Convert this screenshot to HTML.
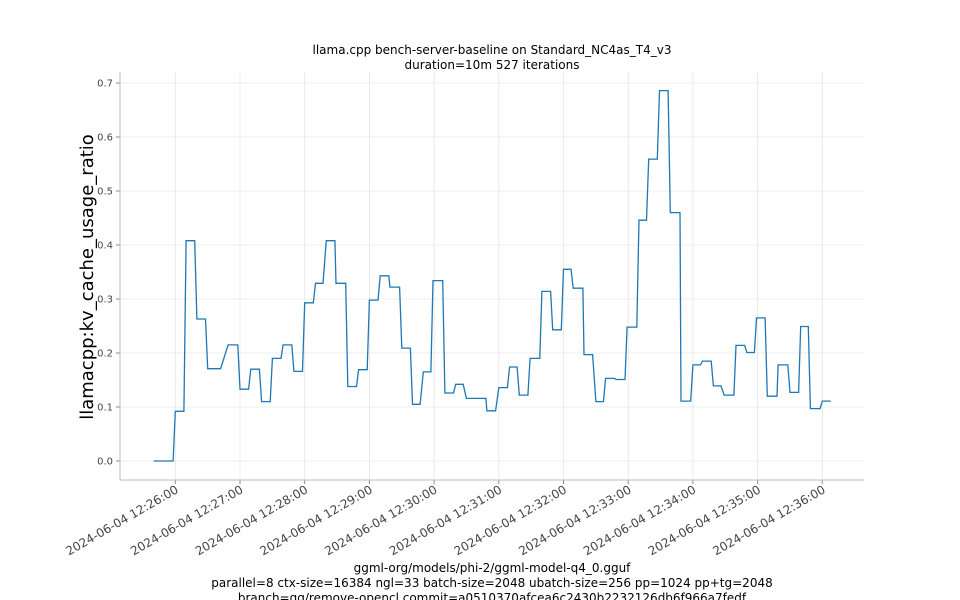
<!DOCTYPE html>
<html><head><meta charset="utf-8"><style>
body{margin:0;background:#fff;}
svg{display:block;font-family:"DejaVu Sans","Liberation Sans",sans-serif;}
</style></head><body>
<svg id="chart" width="960" height="600" viewBox="0 0 960 600" xmlns="http://www.w3.org/2000/svg">
<g id="grid"></g>
<g id="axes"></g>
<path id="series" fill="none" stroke="#1f77b4" stroke-width="1.3"/>
<text x="492" y="54" font-size="12" text-anchor="middle">llama.cpp bench-server-baseline on Standard_NC4as_T4_v3</text>
<text x="492" y="69" font-size="12" text-anchor="middle">duration=10m 527 iterations</text>
<text transform="translate(93,277) rotate(-90)" font-size="18" text-anchor="middle">llamacpp:kv_cache_usage_ratio</text>
<text x="492" y="572" font-size="12" text-anchor="middle">ggml-org/models/phi-2/ggml-model-q4_0.gguf</text>
<text x="492" y="587" font-size="12" text-anchor="middle">parallel=8 ctx-size=16384 ngl=33 batch-size=2048 ubatch-size=256 pp=1024 pp+tg=2048</text>
<text x="492" y="602" font-size="12" text-anchor="middle">branch=gg/remove-opencl commit=a0510370afcea6c2430b2232126db6f966a7fedf</text>
</svg>
<script>
// seconds relative to 2024-06-04 12:26:00
const stepStarts = [-20,0,10,20,30,49,60,70,80,90,100,110,120,130,140,149,160,170,180,190,199,210,220,230,239,250,260,270,289,300,310,319,329,340,350,360,369,379,390,399,409,419,430,439,449,459,469,480,489,499,509,520,530,539,549,559,570,580,589,600];
const stepEnds   = [-2,8,18,28,42,58,68,78,88,98,108,118,128,137,148,158,168,178,188,198,208,218,227,237,248,258,267,288,297,308,317,327,338,348,358,367,378,387,397,407,417,428,437,447,457,468,478,487,497,506,518,528,537,547,558,568,578,587,598,608];
const stepValues = [0,0.092,0.408,0.263,0.171,0.215,0.133,0.170,0.110,0.190,0.215,0.166,0.293,0.329,0.408,0.329,0.138,0.169,0.298,0.343,0.322,0.209,0.105,0.165,0.334,0.126,0.142,0.116,0.093,0.136,0.174,0.122,0.190,0.314,0.243,0.355,0.320,0.197,0.110,0.153,0.151,0.248,0.446,0.559,0.686,0.460,0.111,0.178,0.185,0.139,0.122,0.214,0.201,0.265,0.120,0.178,0.127,0.249,0.097,0.111];
const yTicks = [0,0.1,0.2,0.3,0.4,0.5,0.6,0.7];
const yTickLabels = ["0.0","0.1","0.2","0.3","0.4","0.5","0.6","0.7"];
const xTicks = [0,60,120,180,240,300,360,420,480,540,600];
const xTickLabels = ["2024-06-04 12:26:00","2024-06-04 12:27:00","2024-06-04 12:28:00","2024-06-04 12:29:00","2024-06-04 12:30:00","2024-06-04 12:31:00","2024-06-04 12:32:00","2024-06-04 12:33:00","2024-06-04 12:34:00","2024-06-04 12:35:00","2024-06-04 12:36:00"];

const L=120,R=864,T=72,B=480;
const xs = t => 175.3 + t*64.7/60;
const ys = v => 461 - v*540;
const NS="http://www.w3.org/2000/svg";
const grid=document.getElementById('grid'), axes=document.getElementById('axes');
function mk(tag,attrs,parent){const e=document.createElementNS(NS,tag);for(const k in attrs)e.setAttribute(k,attrs[k]);parent.appendChild(e);return e;}
yTicks.forEach((v,i)=>{
  const y=ys(v);
  const g=mk('line',{x1:L,x2:R,y1:y,y2:y,stroke:'#e6e6e6','stroke-width':0.8},grid);
  
  
  const tk=mk('line',{x1:L-4,x2:L,y1:y,y2:y,stroke:'#888'},axes);
  
  
  const t=mk('text',{x:L-7,y:y+3.5,'font-size':10,'text-anchor':'end',fill:'#444'},axes);
  t.textContent=yTickLabels[i];
  
  
});
xTicks.forEach((s,i)=>{
  const x=xs(s);
  const g=mk('line',{x1:x,x2:x,y1:T,y2:B,stroke:'#e6e6e6','stroke-width':0.8},grid);
  
  
  const tk=mk('line',{x1:x,x2:x,y1:B,y2:B+4,stroke:'#888'},axes);
  
  
  const t=mk('text',{transform:`translate(${x+4},${B+12}) rotate(-30)`,'font-size':12,'text-anchor':'end',fill:'#444'},axes);
  t.textContent=xTickLabels[i];
  
  
});
const sl=mk('line',{x1:L,x2:L,y1:T,y2:B,stroke:'#bbb'},axes);


const sb=mk('line',{x1:L,x2:R,y1:B,y2:B,stroke:'#bbb'},axes);


let d='';
stepValues.forEach((v,i)=>{
  d+=(i?'L':'M')+xs(stepStarts[i]).toFixed(1)+','+ys(v).toFixed(1)+'L'+xs(stepEnds[i]).toFixed(1)+','+ys(v).toFixed(1);
});
document.getElementById('series').setAttribute('d',d);
</script>
</body></html>
